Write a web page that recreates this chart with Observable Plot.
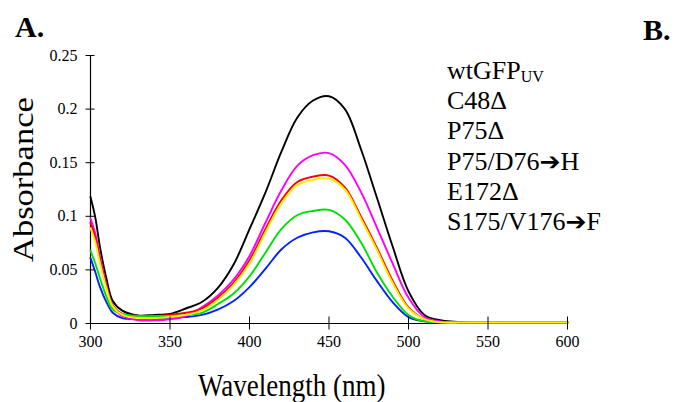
<!DOCTYPE html>
<html><head><meta charset="utf-8">
<script src="https://cdn.jsdelivr.net/npm/d3@7"></script>
<script src="https://cdn.jsdelivr.net/npm/@observablehq/plot@0.6"></script>
<style>
body{margin:0;background:#fff;}
#wrap{position:relative;width:675px;height:402px;overflow:hidden;font-family:"Liberation Serif","Times New Roman",serif;color:#000;}
#wrap svg{position:absolute;left:0;top:0;}
.ov{position:absolute;white-space:nowrap;line-height:1;}
.leg{position:absolute;left:447px;white-space:nowrap;font-size:26px;line-height:30px;height:30px;}
.leg sub{font-size:16px;vertical-align:-3px;line-height:0;}
.arr{font-family:"DejaVu Sans",sans-serif;font-size:25px;line-height:0;}
</style></head><body><div id="wrap"></div>
<script>
const wavelengths = [300,303,306,310,314,320,330,340,350,360,370,380,390,400,410,420,430,440,450,460,470,480,490,500,510,520,540,560,580,600];
const seriesNames = ["wtGFPUV","C48Δ","P75Δ","P75/D76→H","E172Δ","S175/V176→F"];
const seriesColors = ["#000000","#ff00ff","#ff0000","#ffee00","#00e000","#0022ff"];
const legendMain = ["wtGFP","C48Δ","P75Δ","P75/D76","E172Δ","S175/V176"];
const legendSub = ["UV","","","","",""];
const legendTail = ["","","","H","","F"];
const absBlack   = [0.118,0.099,0.071,0.042,0.021,0.012,0.0075,0.008,0.009,0.014,0.020,0.033,0.055,0.088,0.122,0.160,0.192,0.208,0.212,0.200,0.163,0.118,0.072,0.030,0.008,0.003,0.001,0.001,0.001,0.001];
const absMagenta = [0.098,0.084,0.062,0.036,0.016,0.007,0.003,0.003,0.004,0.007,0.015,0.026,0.041,0.063,0.094,0.124,0.147,0.157,0.159,0.148,0.123,0.090,0.056,0.024,0.006,0.002,0.001,0.001,0.001,0.001];
const absRed     = [0.094,0.080,0.059,0.035,0.017,0.009,0.007,0.007,0.008,0.010,0.014,0.024,0.038,0.059,0.088,0.115,0.132,0.137,0.138,0.127,0.100,0.071,0.040,0.015,0.004,0.001,0.001,0.001,0.001,0.001];
const absYellow  = [0.089,0.076,0.056,0.033,0.016,0.008,0.005,0.005,0.006,0.008,0.012,0.022,0.036,0.056,0.085,0.112,0.129,0.134,0.135,0.125,0.098,0.069,0.038,0.014,0.004,0.001,0.001,0.001,0.001,0.001];
const absGreen   = [0.068,0.056,0.042,0.025,0.013,0.009,0.007,0.007,0.007,0.008,0.010,0.018,0.028,0.044,0.066,0.088,0.101,0.105,0.106,0.097,0.076,0.048,0.025,0.008,0.002,0.0015,0.0015,0.0015,0.0015,0.0015];
const absBlue    = [0.061,0.048,0.034,0.020,0.010,0.005,0.004,0.004,0.005,0.006,0.008,0.013,0.021,0.034,0.051,0.069,0.080,0.085,0.086,0.080,0.062,0.040,0.020,0.006,0.002,0.001,0.001,0.001,0.001,0.001];
const xTicks = [300,350,400,450,500,550,600];
const yTicks = [0,0.05,0.1,0.15,0.2,0.25];
const xTitle = "Wavelength (nm)";
const yTitle = "Absorbance";

const seriesValues = [absBlack,absMagenta,absRed,absYellow,absGreen,absBlue];
const drawOrder = [0,5,1,2,4,3];
const table = [];
for (const i of drawOrder) {
  wavelengths.forEach((w,j) => table.push({series: seriesNames[i], nm: w, abs: seriesValues[i][j]}));
}

const chart = Plot.plot({
  width: 675, height: 402,
  marginLeft: 90, marginRight: 108, marginTop: 55, marginBottom: 79,
  x: {domain: [300,600]},
  y: {domain: [0,0.25]},
  color: {domain: seriesNames, range: seriesColors},
  style: {fontFamily: '"Liberation Serif","Times New Roman",serif', fontSize: "16px", color: "#000", background: "transparent"},
  marks: [
    Plot.ruleX([300], {stroke: "#000", strokeWidth: 1.2}),
    Plot.ruleY([0], {stroke: "#000", strokeWidth: 1.2}),
    Plot.line(table, {x: "nm", y: "abs", stroke: "series", z: "series", strokeWidth: 1.9, curve: "catmull-rom"}),
    Plot.axisY(yTicks, {tickSize: 9, dx: 4.5, tickPadding: 8.5, tickFormat: d => String(d), label: null, fontSize: 16}),
    Plot.axisX(xTicks, {tickSize: 13, dy: -6.5, tickPadding: 6, tickFormat: d => String(d), label: null, fontSize: 16})
  ]
});
const wrap = document.getElementById("wrap");
wrap.appendChild(chart);

function ov(html, css) {
  const d = document.createElement("div");
  d.className = "ov";
  d.innerHTML = html;
  Object.assign(d.style, css);
  wrap.appendChild(d);
  return d;
}
ov("A.", {left: "15px", top: "12px", fontSize: "30px", fontWeight: "bold"});
ov("B.", {left: "643px", top: "15px", fontSize: "30px", fontWeight: "bold"});
ov(xTitle, {left: "198px", top: "374px", fontSize: "27px", transformOrigin: "0 22.6px", transform: "scaleY(1.15)"});
ov(yTitle, {left: "8px", top: "262px", fontSize: "30px", transformOrigin: "0 0", transform: "rotate(-90deg) scaleX(1.15)"});

legendMain.forEach((m,i) => {
  const d = document.createElement("div");
  d.className = "leg";
  d.style.top = (56 + i*30.2) + "px";
  let h = m;
  if (legendSub[i]) h += "<sub>" + legendSub[i] + "</sub>";
  if (legendTail[i]) h += '<span class="arr">➔</span>' + legendTail[i];
  d.innerHTML = h;
  wrap.appendChild(d);
});
</script></body></html>
